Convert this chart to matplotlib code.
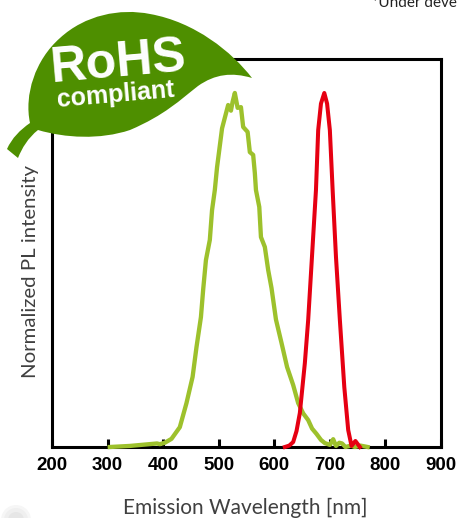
import matplotlib
matplotlib.use("Agg")
import matplotlib.pyplot as plt
from matplotlib.patches import PathPatch, Circle
from matplotlib.path import Path
from matplotlib.transforms import Affine2D

# Spectres
green_nm = [304, 340, 389, 394, 403, 415, 430, 442, 453, 460, 468, 472, 477, 484, 488, 493, 497, 506, 517, 522, 525, 529, 534, 540, 544, 552, 556, 562, 565, 567, 573, 576, 583, 589, 595, 603, 613, 623, 634, 643, 652, 661, 668, 676, 684, 691, 700, 706, 711, 717, 722, 728, 738, 745, 755, 768]
green_val = [0.0, 0.003, 0.01, 0.008, 0.012, 0.023, 0.056, 0.124, 0.198, 0.282, 0.367, 0.444, 0.528, 0.585, 0.669, 0.726, 0.79, 0.90, 0.966, 0.95, 0.975, 1.0, 0.958, 0.96, 0.904, 0.89, 0.833, 0.825, 0.774, 0.726, 0.678, 0.593, 0.565, 0.5, 0.449, 0.36, 0.294, 0.226, 0.175, 0.124, 0.095, 0.076, 0.052, 0.037, 0.02, 0.011, 0.006, 0.022, 0.003, 0.012, 0.01, 0.0, 0.004, 0.0, 0.004, 0.0]
red_nm = [619, 627, 634, 640, 646, 655, 661, 667, 675, 679, 684, 690, 695, 700, 705, 711, 718, 726, 733, 739, 746, 754]
red_val = [0.0, 0.004, 0.014, 0.045, 0.096, 0.237, 0.359, 0.516, 0.726, 0.895, 0.97, 1.0, 0.97, 0.895, 0.726, 0.537, 0.359, 0.169, 0.048, 0.003, 0.017, 0.0]

xticks = [200, 300, 400, 500, 600, 700, 800, 900]
ylim_top = 1.096

W, H = 457, 518
fig = plt.figure(figsize=(W / 100, H / 100), dpi=100)
ax = fig.add_axes([52 / W, 1 - 447 / H, (441 - 52) / W, (447 - 59) / H])

ax.plot(green_nm, green_val, color="#9DC12C", lw=3.1, zorder=3, clip_on=False, solid_joinstyle="round")
ax.plot(red_nm, red_val, color="#E60012", lw=2.9, zorder=4, clip_on=False, solid_joinstyle="round")

ax.set_xlim(200, 900)
ax.set_ylim(0, ylim_top)
ax.set_yticks([])
ax.set_xticks(xticks)
ax.set_xticklabels(xticks, family="Liberation Sans", fontweight="bold", fontsize=13.5, color="black")
ax.tick_params(axis="x", direction="in", length=5.5, width=2.2, pad=7)
for s in ax.spines.values():
    s.set_linewidth(2.2)

fig.text(245 / W, 1 - 508 / H, "Emission Wavelength [nm]", family="Lato", fontsize=15, color="#404040", ha="center", va="center")
fig.text(31 / W, 1 - 271 / H, "Normalized PL intensity", family="Lato", fontsize=14.7, color="#404040", rotation=90, ha="center", va="center")
fig.text(372 / W, 1 - 7.5 / H, "*Under development", family="Lato", fontsize=11, color="#222222", ha="left", va="baseline")

# Feuille RoHS, en pixels de l'image
px = Affine2D().scale(1, -1).translate(0, H)
verts = [
    (30, 123),
    (24, 95), (35, 60), (60, 38),
    (85, 15), (120, 8), (150, 14),
    (195, 22), (232, 52), (252, 78),
    (232, 72), (215, 74), (198, 86),
    (180, 100), (165, 115), (130, 130),
    (100, 140), (65, 138), (38, 130),
    (28, 138), (22, 148), (18, 158),
    (7, 149),
    (12, 138), (20, 130), (30, 123),
]
codes = [Path.MOVETO] + [Path.CURVE4] * 21 + [Path.LINETO] + [Path.CURVE4] * 3
fig.add_artist(PathPatch(Path(verts, codes), facecolor="#4E8F00", edgecolor="none", transform=px, zorder=5))

fig.text(119 / W, 1 - 76 / H, "RoHS", family="Liberation Sans", fontweight="bold", fontsize=36, color="white", rotation=5, ha="center", va="baseline", rotation_mode="anchor", zorder=6)
fig.text(116 / W, 1 - 102 / H, "compliant", family="Liberation Sans", fontweight="bold", fontsize=18, color="white", rotation=5, ha="center", va="baseline", rotation_mode="anchor", zorder=6)

# Tache grise en bas a gauche
for r, c in [(15, "#f6f6f6"), (12, "#efefef"), (8, "#e6e6e6")]:
    fig.add_artist(Circle((16, 520), r, facecolor=c, edgecolor="none", transform=px, zorder=1))

fig.savefig("out.png", dpi=100)
